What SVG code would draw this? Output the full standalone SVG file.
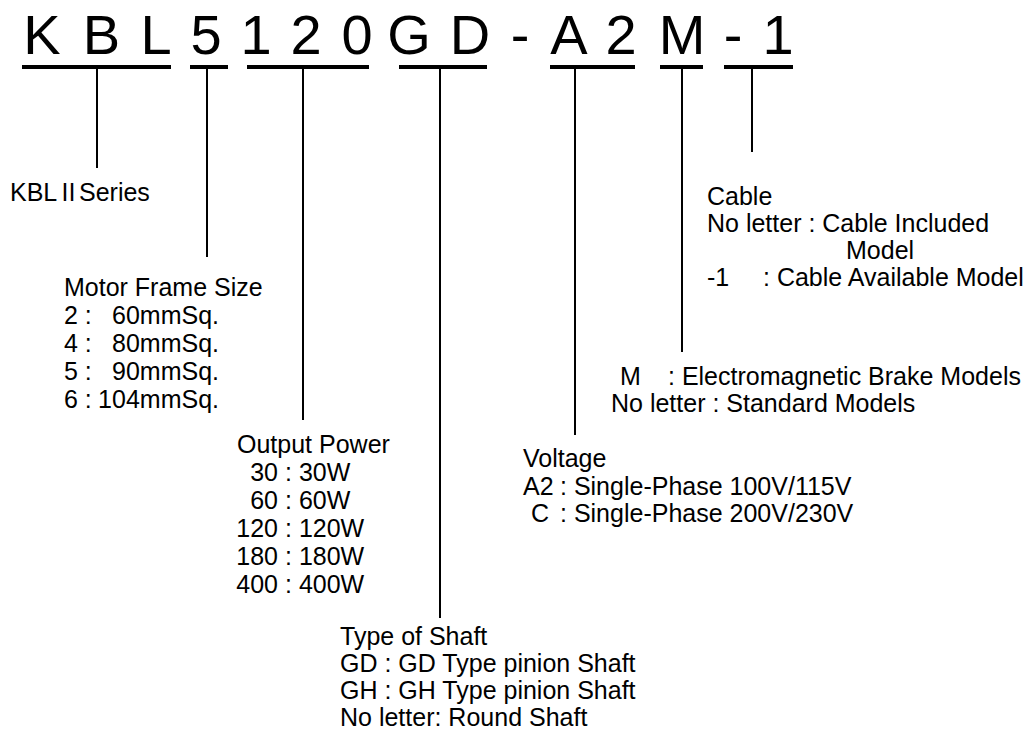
<svg xmlns="http://www.w3.org/2000/svg" width="1025" height="731" viewBox="0 0 1025 731">
<style>
.code{font-family:"Liberation Sans",Arial,sans-serif;font-size:56px;text-anchor:middle;fill:#000}
.lbl{font-family:"Liberation Sans",Arial,"Noto Sans CJK JP",sans-serif;font-size:25px;fill:#000}
.end{text-anchor:end}
.ul{fill:#000}
.vl{stroke:#000;stroke-width:2;fill:none}
</style>
<rect width="1025" height="731" fill="#fff"/>
<g id="model-code">
<text class="code" x="42" y="54">K</text>
<text class="code" x="101.5" y="54">B</text>
<text class="code" x="156" y="54">L</text>
<text class="code" x="206" y="54">5</text>
<text class="code" x="256" y="54">1</text>
<text class="code" x="306" y="54">2</text>
<text class="code" x="357" y="54">0</text>
<text class="code" x="409" y="54">G</text>
<text class="code" x="470" y="54">D</text>
<text class="code" x="520" y="54">-</text>
<text class="code" x="569" y="54">A</text>
<text class="code" x="621" y="54">2</text>
<text class="code" x="682" y="54">M</text>
<text class="code" x="733" y="54">-</text>
<text class="code" x="778" y="54">1</text>
</g>
<g id="connectors">
<rect class="ul" x="22" y="65" width="149" height="4"/>
<rect class="ul" x="190" y="65" width="38" height="4"/>
<rect class="ul" x="247" y="65" width="122" height="4"/>
<rect class="ul" x="399" y="65" width="88" height="4"/>
<rect class="ul" x="550" y="65" width="85" height="4"/>
<rect class="ul" x="660" y="65" width="43" height="4"/>
<rect class="ul" x="724" y="65" width="69" height="4"/>
<line class="vl" x1="97" y1="69" x2="97" y2="168"/>
<line class="vl" x1="207" y1="69" x2="207" y2="257"/>
<line class="vl" x1="303" y1="69" x2="303" y2="420"/>
<line class="vl" x1="440" y1="69" x2="440" y2="618"/>
<line class="vl" x1="575" y1="69" x2="575" y2="435"/>
<line class="vl" x1="682" y1="69" x2="682" y2="352"/>
<line class="vl" x1="752" y1="69" x2="752" y2="152"/>
</g>
<g id="series">
<text class="lbl" y="201"><tspan x="10">KBL</tspan><tspan x="56.5" style="font-family:'Noto Sans CJK JP',sans-serif;font-size:24px">Ⅱ</tspan><tspan x="79">Series</tspan></text>
</g>
<g id="frame-size">
<text class="lbl" x="64" y="296">Motor Frame Size</text>
<text class="lbl" x="64" y="324">2 :</text><text class="lbl end" x="219" y="324">60mmSq.</text>
<text class="lbl" x="64" y="352">4 :</text><text class="lbl end" x="219" y="352">80mmSq.</text>
<text class="lbl" x="64" y="380">5 :</text><text class="lbl end" x="219" y="380">90mmSq.</text>
<text class="lbl" x="64" y="408">6 :</text><text class="lbl end" x="219" y="408">104mmSq.</text>
</g>
<g id="output-power">
<text class="lbl" x="237" y="453">Output Power</text>
<text class="lbl end" x="278" y="481">30</text><text class="lbl" x="285" y="481">: 30W</text>
<text class="lbl end" x="278" y="509">60</text><text class="lbl" x="285" y="509">: 60W</text>
<text class="lbl end" x="278" y="537">120</text><text class="lbl" x="285" y="537">: 120W</text>
<text class="lbl end" x="278" y="565">180</text><text class="lbl" x="285" y="565">: 180W</text>
<text class="lbl end" x="278" y="593">400</text><text class="lbl" x="285" y="593">: 400W</text>
</g>
<g id="shaft">
<text class="lbl" x="340" y="645">Type of Shaft</text>
<text class="lbl" x="340" y="672">GD : GD Type pinion Shaft</text>
<text class="lbl" x="340" y="699">GH : GH Type pinion Shaft</text>
<text class="lbl" x="340" y="726">No letter: Round Shaft</text>
</g>
<g id="voltage">
<text class="lbl" x="523" y="467">Voltage</text>
<text class="lbl" y="495"><tspan x="523">A2</tspan><tspan x="560">: Single-Phase 100V/115V</tspan></text>
<text class="lbl" y="522"><tspan x="531">C</tspan><tspan x="560">: Single-Phase 200V/230V</tspan></text>
</g>
<g id="brake">
<text class="lbl" y="385"><tspan x="620">M</tspan><tspan x="668">: Electromagnetic Brake Models</tspan></text>
<text class="lbl" x="611" y="412">No letter : Standard Models</text>
</g>
<g id="cable">
<text class="lbl" x="707" y="205">Cable</text>
<text class="lbl" x="707" y="232">No letter : Cable Included</text>
<text class="lbl" x="846" y="259">Model</text>
<text class="lbl" y="286"><tspan x="707">-1</tspan><tspan x="763">: Cable Available Model</tspan></text>
</g>
</svg>
